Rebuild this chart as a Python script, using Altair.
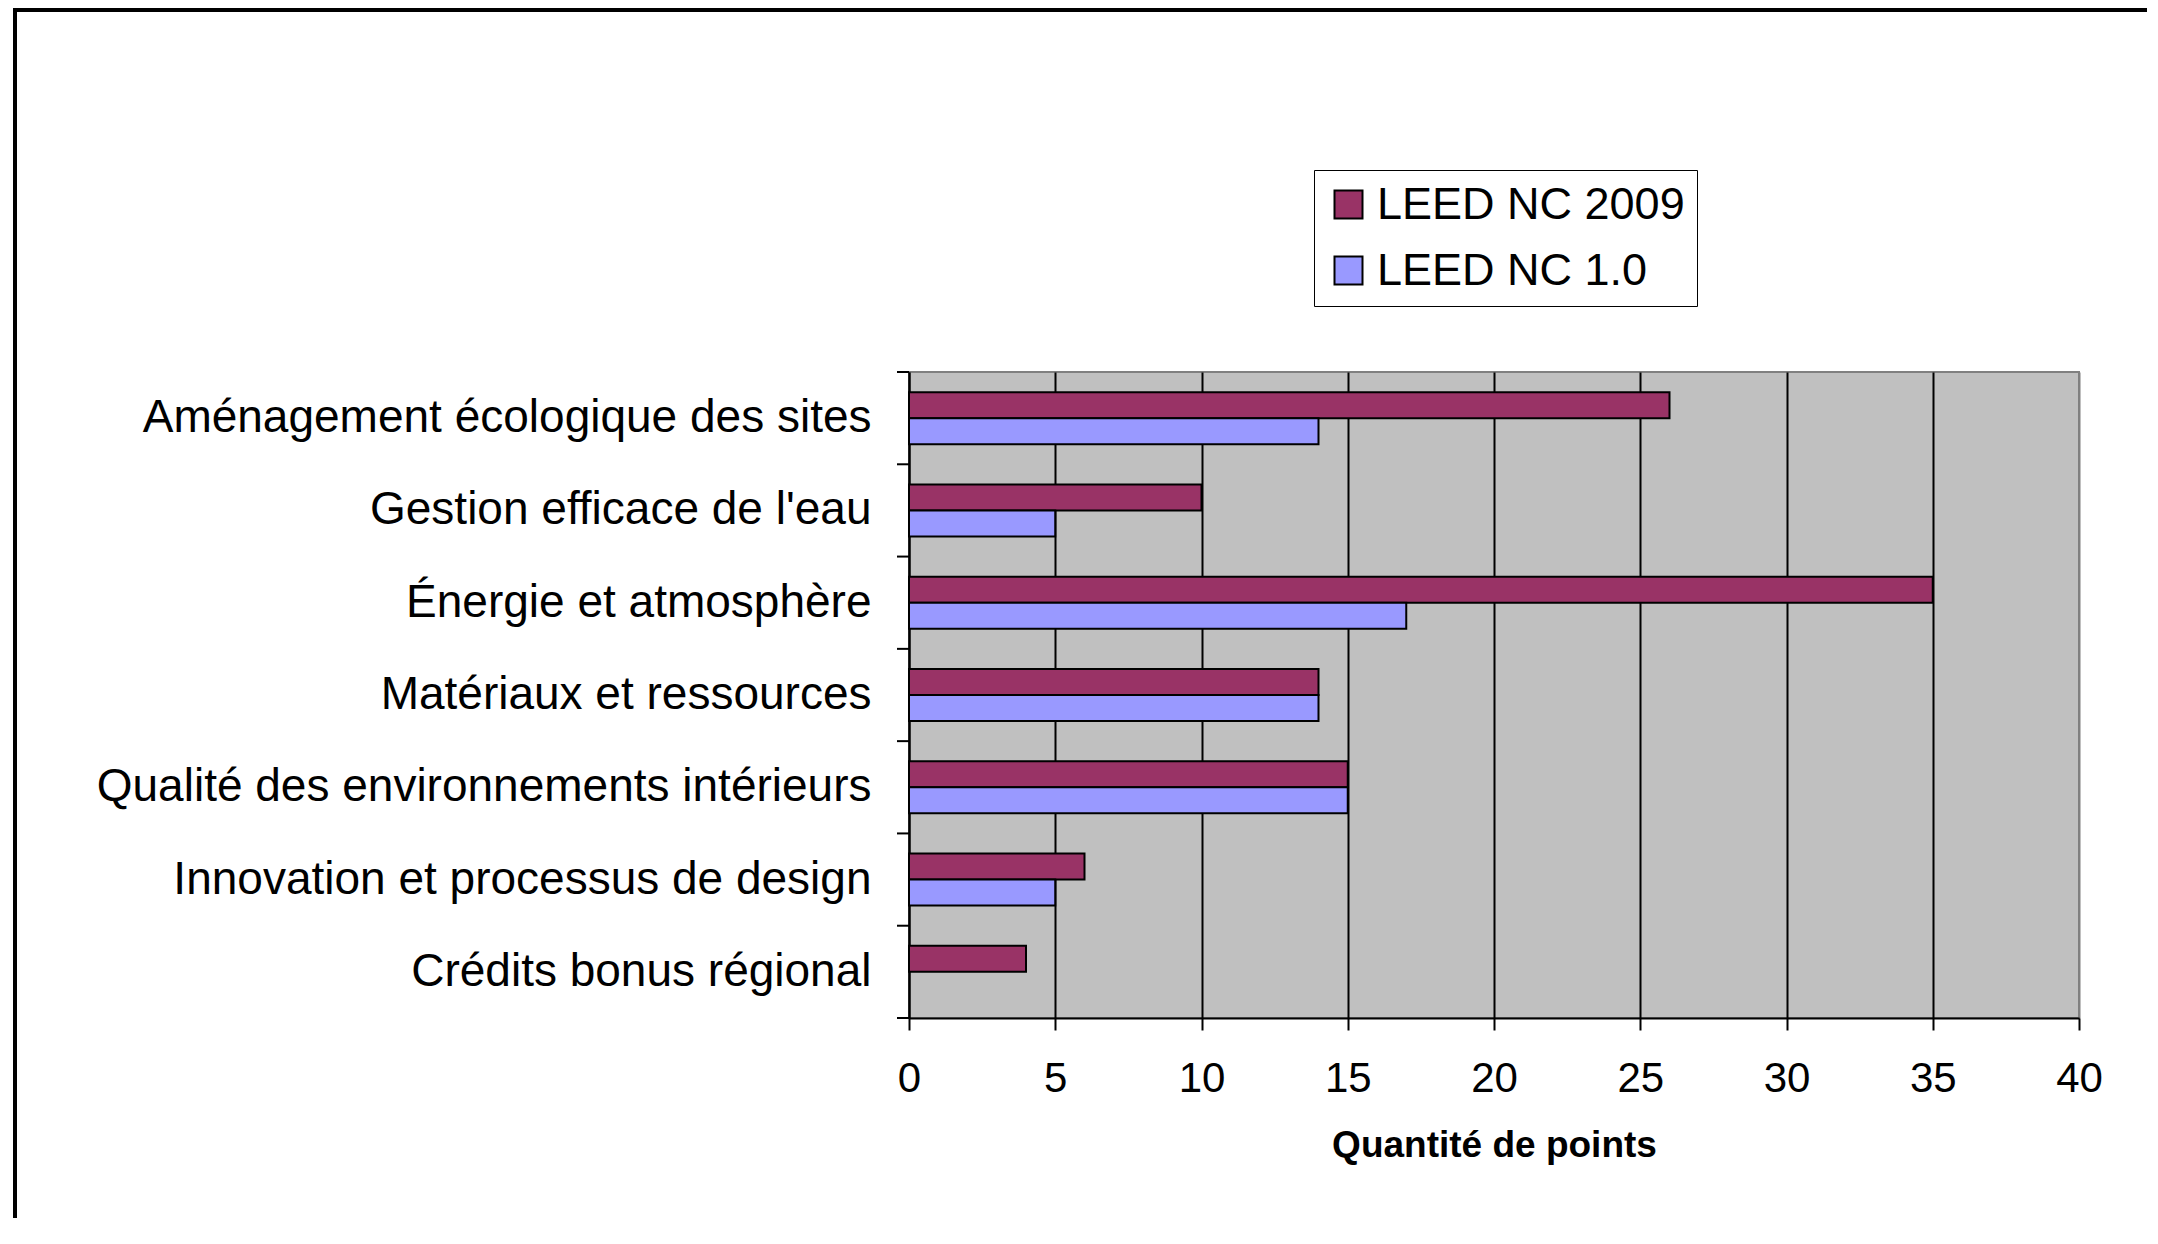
import altair as alt
import pandas as pd

categories = [
    "Aménagement écologique des sites",
    "Gestion efficace de l'eau",
    "Énergie et atmosphère",
    "Matériaux et ressources",
    "Qualité des environnements intérieurs",
    "Innovation et processus de design",
    "Crédits bonus régional",
]
leed_2009 = [26, 10, 35, 14, 15, 6, 4]
leed_10 = [14, 5, 17, 14, 15, 5, None]
series = ["LEED NC 2009", "LEED NC 1.0"]
colors = ["#993366", "#9999FF"]
x_ticks = [0, 5, 10, 15, 20, 25, 30, 35, 40]

rows = []
for c, a, b in zip(categories, leed_2009, leed_10):
    if a is not None:
        rows.append({"cat": c, "series": series[0], "val": a})
    if b is not None:
        rows.append({"cat": c, "series": series[1], "val": b})
df = pd.DataFrame(rows)
cat_df = pd.DataFrame({"cat": categories})
one = pd.DataFrame({"k": [0]})

FONT = "Liberation Sans"
W, H = 1170, 646

yscale = alt.Scale(domain=categories, paddingInner=0, paddingOuter=0)
yaxis = alt.Axis(
    title=None,
    ticks=False,
    labelPadding=38,
    labelFont=FONT,
    labelFontSize=46,
    labelColor="black",
    labelLimit=1000,
    domainColor="black",
    domainWidth=2,
)

bars = alt.Chart(df).mark_bar(stroke="black", strokeWidth=2).encode(
    x=alt.X(
        "val:Q",
        scale=alt.Scale(domain=[0, 40], nice=False),
        axis=alt.Axis(
            values=x_ticks,
            title="Quantité de points",
            grid=True,
            gridColor=alt.condition(alt.datum.value == 40, alt.value("#808080"), alt.value("black")),
            gridWidth=2,
            tickSize=12,
            tickWidth=2,
            tickColor="black",
            domainColor="black",
            domainWidth=2,
            labelFont=FONT,
            labelFontSize=42,
            labelColor="black",
            labelPadding=28,
            labelFlush=False,
            titleFont=FONT,
            titleFontSize=37,
            titleFontWeight="bold",
            titleColor="black",
            titlePadding=28,
        ),
    ),
    y=alt.Y("cat:N", sort=categories, scale=yscale, axis=yaxis),
    yOffset=alt.YOffset(
        "series:N",
        sort=series,
        scale=alt.Scale(domain=series, paddingInner=0, paddingOuter=0.775),
    ),
    color=alt.Color(
        "series:N",
        sort=series,
        scale=alt.Scale(domain=series, range=colors),
        legend=alt.Legend(
            title=None,
            orient="none",
            legendX=405,
            legendY=-202,
            direction="vertical",
            strokeColor="black",
            fillColor="white",
            padding=12,
            labelFont=FONT,
            labelFontSize=45,
            labelColor="black",
            labelLimit=1000,
            labelOffset=6,
            labelExpr="datum.label + '\u00a0'",
            symbolType="square",
            symbolSize=784,
            symbolStrokeColor="black",
            symbolStrokeWidth=2,
            symbolOpacity=1,
            rowPadding=20,
        ),
    ),
)

yticks = alt.Chart(cat_df).mark_rule(color="black", strokeWidth=2).encode(
    y=alt.Y("cat:N", sort=categories, scale=yscale, bandPosition=0, axis=yaxis),
    x=alt.value(-12),
    x2=alt.value(0),
)
ytick_bottom = alt.Chart(one).mark_rule(color="black", strokeWidth=2).encode(
    y=alt.value(H), x=alt.value(-12), x2=alt.value(0)
)
border_left = alt.Chart(one).mark_rule(color="black", strokeWidth=4).encode(
    x=alt.value(-894), y=alt.value(-364), y2=alt.value(880)
)
border_top = alt.Chart(one).mark_rule(color="black", strokeWidth=4).encode(
    y=alt.value(-362), x=alt.value(-896), x2=alt.value(1240)
)

chart = alt.layer(bars, yticks, ytick_bottom, border_left, border_top).properties(
    width=W,
    height=H,
    autosize=alt.AutoSizeParams(type="none"),
    padding={"left": 901, "top": 364, "right": 68, "bottom": 200},
    background="white",
).configure_view(
    fill="#C0C0C0", stroke="#808080", strokeWidth=2
)

chart.save("out.html", embed_options={"renderer": "svg", "actions": False})
